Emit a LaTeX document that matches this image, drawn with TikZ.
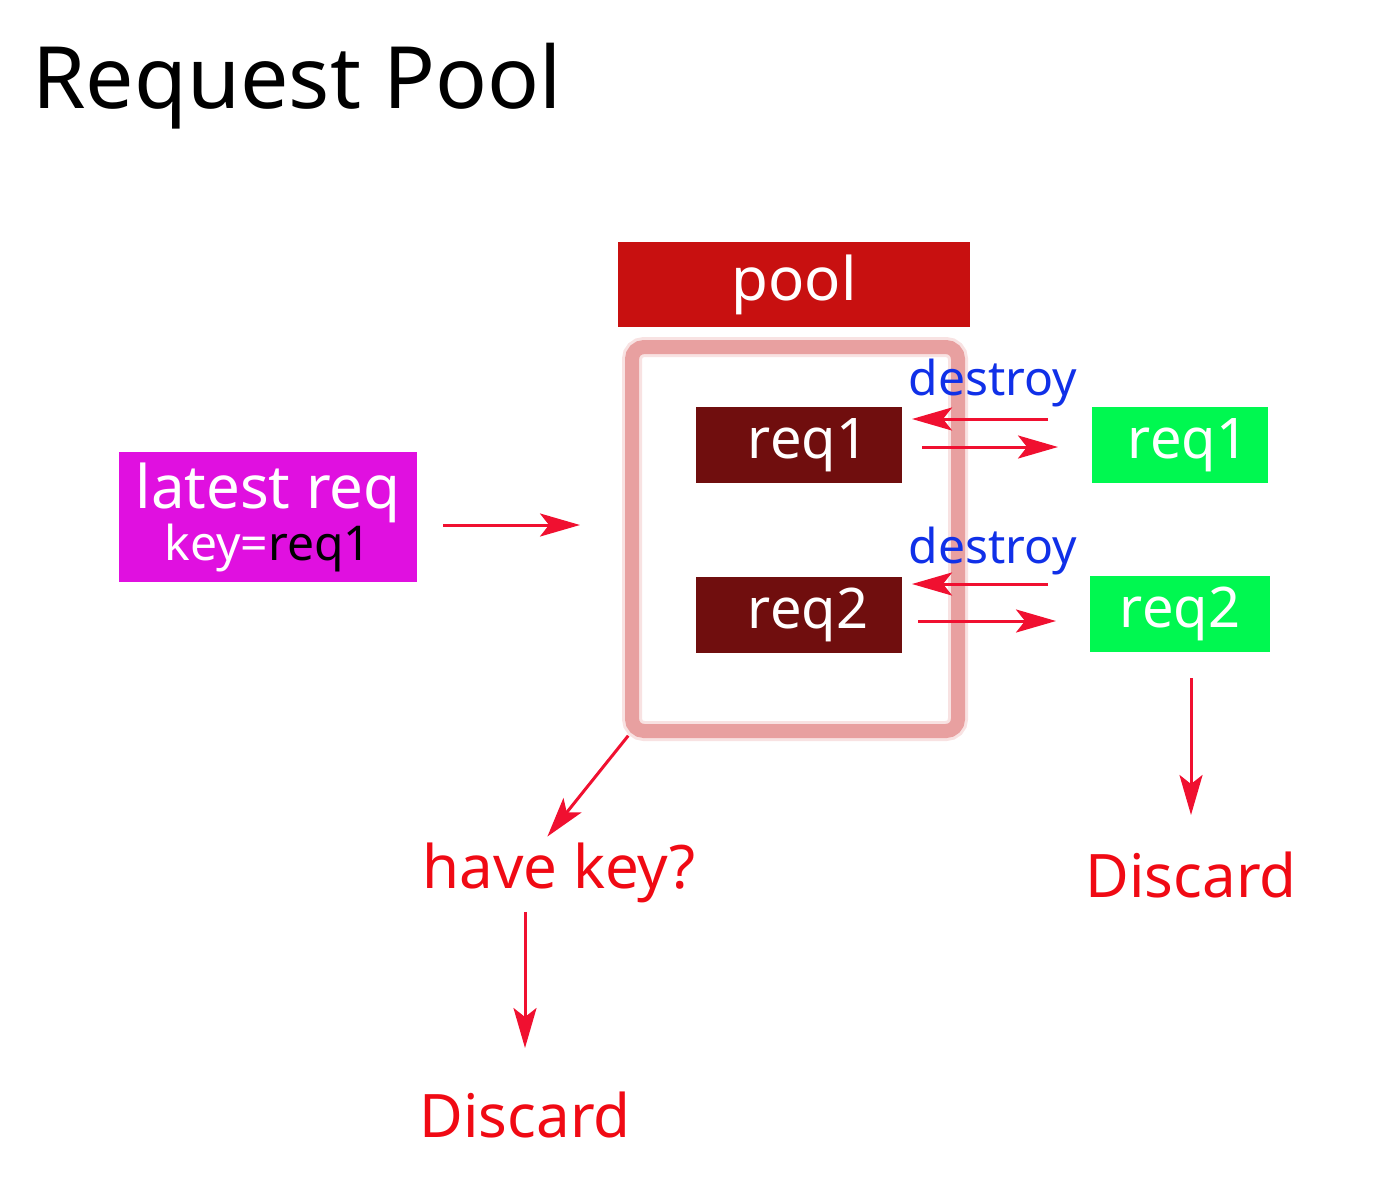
\documentclass[tikz,border=0pt]{standalone}
\usepackage{fontspec}
\setmainfont{Noto Sans}
\usetikzlibrary{arrows.meta}
\definecolor{poolred}{RGB}{200,16,16}
\definecolor{framepink}{RGB}{232,160,160}
\definecolor{slotred}{RGB}{112,14,14}
\definecolor{extgreen}{RGB}{0,248,80}
\definecolor{latestmag}{RGB}{224,16,224}
\definecolor{destroyblue}{RGB}{16,48,232}
\definecolor{arrred}{RGB}{240,16,48}
\definecolor{notered}{RGB}{240,10,20}
\begin{document}
\begin{tikzpicture}[
        x=0.5pt, y=-0.5pt,
        poolbox/.style={rectangle, fill=poolred, text=white, minimum width=176pt, minimum height=42.5pt, font=\fontsize{30pt}{36pt}\selectfont},
        frame/.style={rectangle, draw=framepink, line width=7pt, rounded corners=6pt, outer sep=0pt, minimum width=163pt, minimum height=192pt,
          preaction={draw=framepink, line width=10pt, opacity=0.3}},
        slot/.style={rectangle, fill=slotred, text=white, minimum width=103pt, minimum height=38pt, outer sep=0pt, font=\fontsize{28pt}{34pt}\selectfont},
        ext/.style={rectangle, fill=extgreen, text=white, minimum height=38pt, outer sep=0pt, font=\fontsize{28pt}{34pt}\selectfont},
        tag/.style={anchor=base, inner sep=0pt, text=destroyblue, font=\fontsize{24pt}{28pt}\selectfont},
        note/.style={anchor=base, inner sep=0pt, text=notered, font=\fontsize{30pt}{36pt}\selectfont},
        arr/.style={-{Stealth[length=20pt, width=11.5pt, inset=4.5pt]}, draw=arrred, line width=1.5pt}
        ]
      \useasboundingbox (0,0) rectangle (1400,1194);
      \node[anchor=base west, inner sep=0pt, font=\fontsize{43pt}{50pt}\selectfont] (title) at (32,108) {Request Pool};

      \node[poolbox] (pool) at (794,284.5) {pool};
      \node[frame] (frame) at (795,539) {};
      \node[slot] (slot1) at (799,445) {\hspace{9pt}req1};
      \node[slot] (slot2) at (799,615) {\hspace{9pt}req2};

      \node[ext, minimum width=88pt] (req1) at (1180,445) {\hspace{8pt}req1};
      \node[ext, minimum width=90pt] (req2) at (1180,614) {req2};
      \node[tag] (destroy1) at (993,395) {destroy};
      \node[tag] (destroy2) at (993,563) {destroy};

      \node[rectangle, fill=latestmag, text=white, align=center, minimum width=149pt, minimum height=65pt, outer sep=0pt,
        font=\fontsize{30pt}{26pt}\selectfont] (latest) at (268,517)
        {latest req\\{\fontsize{24pt}{26pt}\selectfont key=\textcolor{black}{req1}}};

      \node[note] (havekey) at (559,888) {have key?};
      \node[note] (discard1) at (525,1137) {Discard};
      \node[note] (discard2) at (1191,897) {Discard};

      % into the pool
      \draw[arr, shorten <=13pt, shorten >=26pt] ([yshift=-4pt]latest.east) -- ([yshift=-4pt]latest.east -| frame.west);

      % destroy and replace
      \draw[arr, shorten <=22pt, shorten >=5pt] ([yshift=13pt]req1.west) -- ([yshift=13pt]req1.west -| slot1.east);
      \draw[arr, shorten <=10pt, shorten >=17pt] ([yshift=-1pt]slot1.east) -- ([yshift=-1pt]slot1.east -| req1.west);
      \draw[arr, shorten <=21pt, shorten >=5pt] ([yshift=15pt]req2.west) -- ([yshift=15pt]req2.west -| slot2.east);
      \draw[arr, shorten <=8pt, shorten >=17pt] ([yshift=-3pt]slot2.east) -- ([yshift=-3pt]slot2.east -| req2.west);

      % discard paths
      \draw[arr, shorten <=3pt, shorten >=3.5pt] (frame.south west) -- ([xshift=-8pt]havekey.north);
      \draw[arr, shorten <=4.5pt, shorten >=21.5pt] (discard1 |- havekey.south) -- (discard1.north);
      \draw[arr, shorten <=13pt, shorten >=18pt] (discard2 |- req2.south) -- (discard2.north);

    \end{tikzpicture}
\end{document}
